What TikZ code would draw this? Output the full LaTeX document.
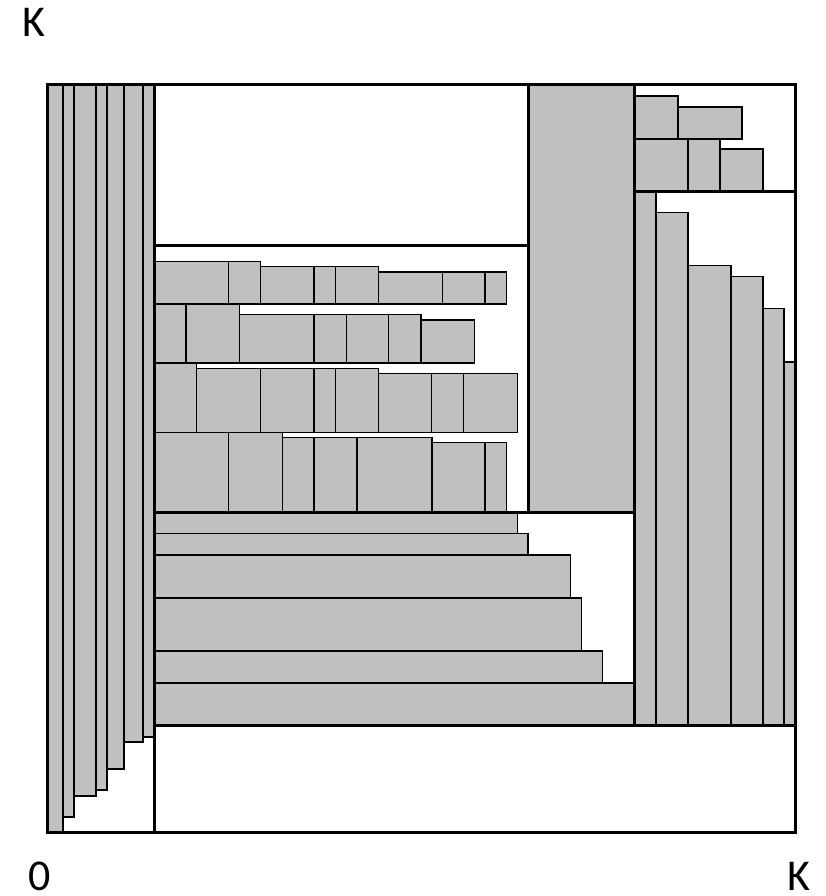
\documentclass[tikz,border=0pt]{standalone}
\usepackage{fontspec}
\setmainfont{Carlito}
\definecolor{itemgray}{RGB}{192,192,192}
\begin{document}
\begin{tikzpicture}[x=1pt,y=-1pt,
  item/.style={fill=itemgray,draw=black,line width=1.4pt},
  region/.style={draw=black,line width=3pt},
  lbl/.style={font=\fontsize{44}{50}\selectfont,inner sep=0pt,anchor=base}]
\useasboundingbox (0,0) rectangle (826,896);
% left strip
\foreach \a/\b/\c/\d in {47/63/85/832,63/74/85/817,74/96/85/796,96/107/85/790,107/124/85/769,124/143/85/742,143/154/85/737}
  \draw[item] (\a,\c) rectangle (\b,\d);
% tall gray
\draw[item] (528,85) rectangle (634,512);
% top right
\foreach \a/\b/\c/\d in {634/678/96/139,678/742/107/139,634/688/139/191.7,688/720/139/191.7,720/763/149/191.7}
  \draw[item] (\a,\c) rectangle (\b,\d);
% right lower
\foreach \a/\b/\c in {634/656/191.7,656/688/212.4,688/731/265.6,731/763/276.4,763/784/308.5,784/795/362}
  \draw[item] (\a,\c) rectangle (\b,725);
% shelf rows
\foreach \a/\b/\c in {154/228.7/261.7,228.7/260.7/261.7,260.7/314/266.7,314/335.7/266.7,335.7/378.3/266.7,378.3/442.3/272,442.3/485/272,485/506.7/272}
  \draw[item] (\a,\c) rectangle (\b,304);
\foreach \a/\b/\c in {154/186/304,186/239.3/304,239.3/314/314.7,314/346.7/314.7,346.7/388.7/314.7,388.7/421/314.7,421/474.3/320}
  \draw[item] (\a,\c) rectangle (\b,363);
\foreach \a/\b/\c in {154/196.7/363,196.7/260.7/368.3,260.7/314/368.3,314/335.7/368.3,335.7/378.3/368.3,378.3/431.7/373.7,431.7/463.3/373.7,463.3/517.3/373.7}
  \draw[item] (\a,\c) rectangle (\b,432.3);
\foreach \a/\b/\c in {154/228.7/432.3,228.7/282.3/432.3,282.3/314/437.7,314/357/437.7,357/432/437.7,432/485/442.7,485/506.7/442.7}
  \draw[item] (\a,\c) rectangle (\b,512);
% lower bars
\foreach \b/\c/\d in {517.3/512.3/533.7,528/533.7/555,570.7/555/598,581.3/598/651,602.7/651/683,634/683/725.7}
  \draw[item] (154,\c) rectangle (\b,\d);
% region borders
\draw[region] (47,85) rectangle (795,832);
\draw[region] (154,85) -- (154,832);
\draw[region] (154,725) -- (795,725);
\draw[region] (634,85) -- (634,725);
\draw[region] (154,512) -- (634,512);
\draw[region] (528,85) -- (528,512);
\draw[region] (154,245) -- (528,245);
\draw[region] (634,191.7) -- (795,191.7);
% labels
\node[lbl] (ky) at (33.5,37) {K};
\node[lbl] (zero) at (40,890) {0};
\node[lbl] (kx) at (799,890) {K};
\end{tikzpicture}
\end{document}
